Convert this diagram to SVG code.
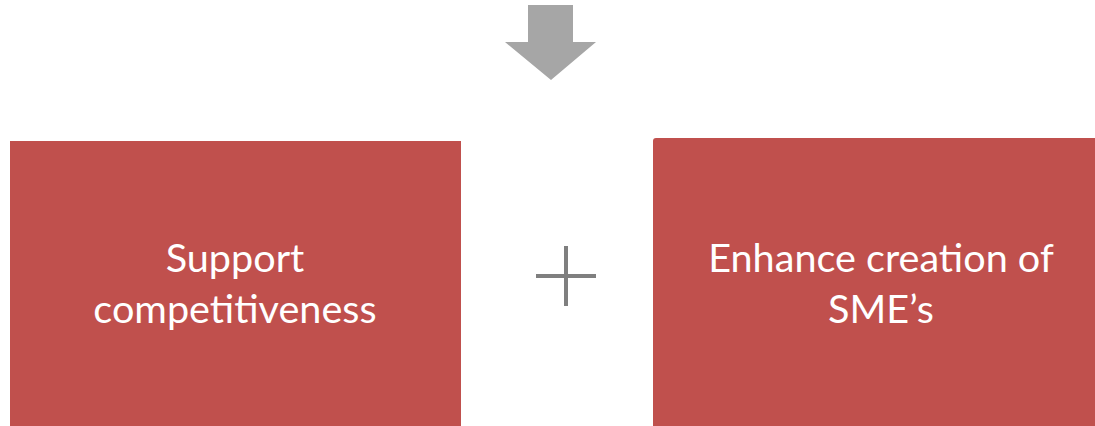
<svg xmlns="http://www.w3.org/2000/svg" width="1095" height="426" viewBox="0 0 1095 426">
<style>
.box{fill:#C0504D}
.lbl{font-family:Lato,"Liberation Sans",sans-serif;font-size:39.6px;fill:#FFFFFF;text-anchor:middle}
</style>
<rect width="1095" height="426" fill="#FFFFFF"/>
<g id="connectors">
<polygon points="528,5 573,5 573,42 596,42 551,80 505,42 528,42" fill="#A6A6A6"/>
<g stroke="#7F7F7F" stroke-width="4">
<line x1="566" y1="246" x2="566" y2="306"/>
<line x1="536" y1="276" x2="596" y2="276"/>
</g>
</g>
<g id="node-support">
<rect class="box" x="10" y="141" width="451" height="290"/>
<text class="lbl" x="235" y="272">Support</text>
<text class="lbl" x="235" y="323">competitiveness</text>
</g>
<g id="node-enhance">
<rect class="box" x="653" y="138" width="450" height="295" rx="3"/>
<text class="lbl" x="881" y="272">Enhance creation of</text>
<text class="lbl" x="881" y="323">SME’s</text>
</g>
</svg>
